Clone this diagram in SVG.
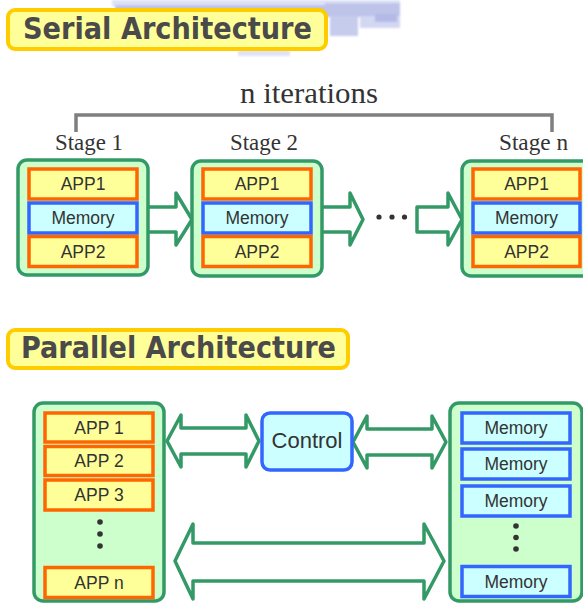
<svg xmlns="http://www.w3.org/2000/svg" width="583" height="603" viewBox="0 0 583 603">
  <defs>
    <style>
      .title-box { fill: #ffff99; stroke: #ffcc00; stroke-width: 4; }
      .title { font-family: "DejaVu Sans Condensed", "Liberation Sans", Arial, sans-serif; font-weight: bold; font-size: 30px; fill: #4a4a4a; }
      .serif { font-family: "Liberation Serif", "Times New Roman", serif; fill: #333; }
      .stage { fill: #ccffcc; stroke: #339966; stroke-width: 3.5; }
      .app { fill: #ffff99; stroke: #ff6600; stroke-width: 3.5; }
      .mem { fill: #ccffff; stroke: #3366ff; stroke-width: 3.5; }
      .lbl { font-family: "Liberation Sans", Arial, sans-serif; font-size: 17.5px; fill: #333; text-anchor: middle; }
      .arrow { fill: #ffffff; stroke: #339966; stroke-width: 3.5; stroke-linejoin: round; }
      .dot { fill: #333; }
    </style>
    <filter id="soft" x="-10%" y="-50%" width="120%" height="200%">
      <feGaussianBlur stdDeviation="1.2"/>
    </filter>
  </defs>

  <rect width="583" height="603" fill="#ffffff"/>

  <!-- faint logo remnant behind the heading -->
  <g id="logo-shade" filter="url(#soft)" opacity="0.75">
    <rect x="112" y="0" width="288" height="6" fill="#d4d9f3"/>
    <rect x="115" y="5" width="210" height="9" fill="#a8b0e2"/>
    <rect x="325" y="3" width="75" height="14" fill="#a8b0e2"/>
    <rect x="330" y="16" width="28" height="20" fill="#b4bbe6"/>
    <rect x="360" y="16" width="40" height="12" fill="#c4caee"/>
    <rect x="375" y="14" width="22" height="8" fill="#9aa3de"/>
    <rect x="238" y="50" width="52" height="6" fill="#d4d9f3"/>
  </g>

  <!-- headings -->
  <g id="serial-title">
    <rect class="title-box" x="8" y="10" width="318" height="39" rx="7"/>
    <text class="title" x="23" y="39" textLength="289" lengthAdjust="spacingAndGlyphs">Serial Architecture</text>
  </g>
  <g id="parallel-title">
    <rect class="title-box" x="8" y="330" width="340" height="38" rx="7"/>
    <text class="title" x="21" y="358" textLength="315" lengthAdjust="spacingAndGlyphs">Parallel Architecture</text>
  </g>

  <!-- iteration bracket -->
  <g id="iterations">
    <path d="M76,132 V115 H552 V132" fill="none" stroke="#7f7f7f" stroke-width="3.5"/>
    <text class="serif" x="240" y="103" font-size="29" textLength="138" lengthAdjust="spacingAndGlyphs">n iterations</text>
  </g>

  <!-- connectors -->
  <g id="connectors">
    <polygon class="arrow" points="146,207 176,207 176,193 192,219.5 176,245 176,232 146,232"/>
    <polygon class="arrow" points="320,207 350,207 350,193 363,219.5 350,245 350,232 320,232"/>
    <polygon class="arrow" points="417,207 448,207 448,193 462,219.5 448,245 448,232 417,232"/>
    <circle class="dot" cx="379" cy="217" r="2.6"/>
    <circle class="dot" cx="392" cy="217" r="2.6"/>
    <circle class="dot" cx="404.5" cy="217" r="2.6"/>

    <polygon class="arrow" points="167,441 181,415 181,428 246,428 246,415 259,441 246,467 246,454 181,454 181,467"/>
    <polygon class="arrow" points="353,442 367,416 367,429 432,429 432,416 446,442 432,468 432,455 367,455 367,468"/>
    <polygon class="arrow" points="175,561 193,524 193,543 424,543 424,524 444,561 424,599 424,581 193,581 193,599"/>
  </g>

  <!-- serial stages -->
  <g id="stage-1">
    <text class="serif" x="55" y="150" font-size="24" textLength="68" lengthAdjust="spacingAndGlyphs">Stage 1</text>
    <rect class="stage" x="18" y="160" width="130" height="115" rx="9"/>
    <rect class="app" x="29" y="169" width="108" height="30"/>
    <text class="lbl" x="83" y="190">APP1</text>
    <rect class="mem" x="29" y="203" width="108" height="30"/>
    <text class="lbl" x="83" y="224">Memory</text>
    <rect class="app" x="29" y="236.5" width="108" height="30"/>
    <text class="lbl" x="83" y="257.5">APP2</text>
  </g>
  <g id="stage-2">
    <text class="serif" x="230" y="150" font-size="24" textLength="68" lengthAdjust="spacingAndGlyphs">Stage 2</text>
    <rect class="stage" x="192" y="161" width="130" height="115" rx="9"/>
    <rect class="app" x="203" y="169" width="108" height="30"/>
    <text class="lbl" x="257" y="190">APP1</text>
    <rect class="mem" x="203" y="203" width="108" height="30"/>
    <text class="lbl" x="257" y="224">Memory</text>
    <rect class="app" x="203" y="236.5" width="108" height="30"/>
    <text class="lbl" x="257" y="257.5">APP2</text>
  </g>
  <g id="stage-n">
    <text class="serif" x="499" y="150" font-size="24" textLength="69" lengthAdjust="spacingAndGlyphs">Stage n</text>
    <rect class="stage" x="462" y="161" width="132" height="115" rx="9"/>
    <rect class="app" x="473" y="169" width="107" height="30"/>
    <text class="lbl" x="526.5" y="190">APP1</text>
    <rect class="mem" x="473" y="203" width="107" height="30"/>
    <text class="lbl" x="526.5" y="224">Memory</text>
    <rect class="app" x="473" y="236.5" width="107" height="30"/>
    <text class="lbl" x="526.5" y="257.5">APP2</text>
  </g>

  <!-- parallel architecture -->
  <g id="app-bank">
    <rect class="stage" x="34" y="403" width="130" height="198" rx="9"/>
    <rect class="app" x="45" y="413" width="108" height="29"/>
    <text class="lbl" x="99" y="433.5">APP 1</text>
    <rect class="app" x="45" y="446.5" width="108" height="29"/>
    <text class="lbl" x="99" y="467">APP 2</text>
    <rect class="app" x="45" y="480" width="108" height="30"/>
    <text class="lbl" x="99" y="501">APP 3</text>
    <circle class="dot" cx="100" cy="522" r="2.8"/>
    <circle class="dot" cx="100" cy="534" r="2.8"/>
    <circle class="dot" cx="100" cy="546" r="2.8"/>
    <rect class="app" x="45" y="567.5" width="108" height="30"/>
    <text class="lbl" x="99" y="588.5">APP n</text>
  </g>
  <g id="control">
    <rect class="mem" x="262" y="413" width="90" height="57" rx="8"/>
    <text x="307" y="448" font-family="Liberation Sans, Arial, sans-serif" font-size="22" fill="#333" text-anchor="middle">Control</text>
  </g>
  <g id="memory-bank">
    <rect class="stage" x="450" y="403" width="132" height="198" rx="9"/>
    <rect class="mem" x="462" y="413" width="108" height="30"/>
    <text class="lbl" x="516" y="434">Memory</text>
    <rect class="mem" x="462" y="449" width="108" height="30"/>
    <text class="lbl" x="516" y="470">Memory</text>
    <rect class="mem" x="462" y="486" width="108" height="30"/>
    <text class="lbl" x="516" y="507">Memory</text>
    <circle class="dot" cx="516" cy="526" r="2.8"/>
    <circle class="dot" cx="516" cy="537.5" r="2.8"/>
    <circle class="dot" cx="516" cy="549" r="2.8"/>
    <rect class="mem" x="462" y="566.5" width="108" height="30"/>
    <text class="lbl" x="516" y="587.5">Memory</text>
  </g>
</svg>
